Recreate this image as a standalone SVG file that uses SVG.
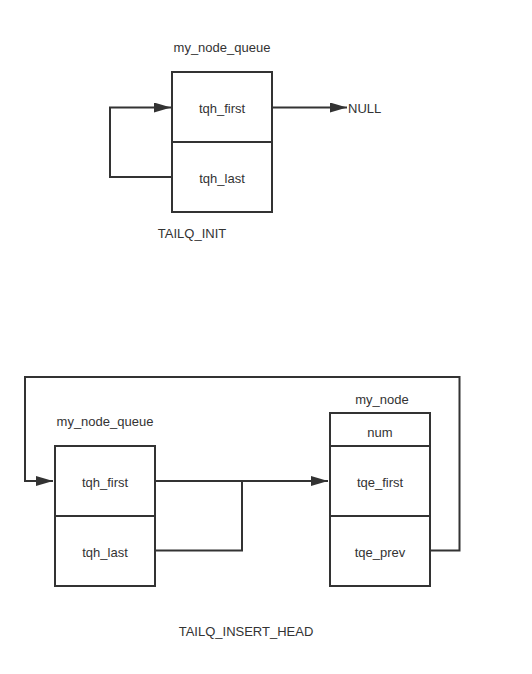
<svg xmlns="http://www.w3.org/2000/svg" width="532" height="674" viewBox="0 0 532 674">
<style>
.box{fill:#fff;stroke:#333;stroke-width:2}
.ln{fill:none;stroke:#333;stroke-width:2}
text{font-family:"Liberation Sans",Arial,sans-serif;font-size:13px;fill:#333;text-anchor:middle}
.l{text-anchor:start}
</style>
<defs>
<marker id="ah" markerWidth="17" markerHeight="10" refX="17" refY="5" orient="auto" markerUnits="userSpaceOnUse">
<path d="M0,0 L17,5 L0,10 Z" fill="#333"/>
</marker>
</defs>
<rect width="532" height="674" fill="#fff"/>
<g id="connectors">
<path class="ln" d="M272,107.5 L347,107.5" marker-end="url(#ah)"/>
<path class="ln" d="M172,177 L110,177 L110,107.5 L171,107.5" marker-end="url(#ah)"/>
<path class="ln" d="M155,481 L328,481" marker-end="url(#ah)"/>
<path class="ln" d="M155,550.5 L242,550.5 L242,481"/>
<path class="ln" d="M430,550.5 L459.5,550.5 L459.5,377 L25,377 L25,481 L53,481" marker-end="url(#ah)"/>
</g>
<g id="queue_init">
<text x="222" y="52">my_node_queue</text>
<rect class="box" x="172" y="72" width="100" height="140"/>
<line class="ln" x1="172" y1="142" x2="272" y2="142"/>
<text x="222" y="113">tqh_first</text>
<text x="222" y="183">tqh_last</text>
</g>
<text class="l" x="348" y="113">NULL</text>
<text x="192" y="238">TAILQ_INIT</text>
<g id="queue_insert">
<text x="105" y="426">my_node_queue</text>
<rect class="box" x="55" y="446" width="100" height="140"/>
<line class="ln" x1="55" y1="516" x2="155" y2="516"/>
<text x="105" y="487">tqh_first</text>
<text x="105" y="557">tqh_last</text>
</g>
<g id="my_node">
<text x="382" y="404">my_node</text>
<rect class="box" x="330" y="413" width="100" height="173"/>
<line class="ln" x1="330" y1="446" x2="430" y2="446"/>
<line class="ln" x1="330" y1="516" x2="430" y2="516"/>
<text x="380" y="437">num</text>
<text x="380" y="487">tqe_first</text>
<text x="380" y="557">tqe_prev</text>
</g>
<text x="246" y="636">TAILQ_INSERT_HEAD</text>
</svg>
